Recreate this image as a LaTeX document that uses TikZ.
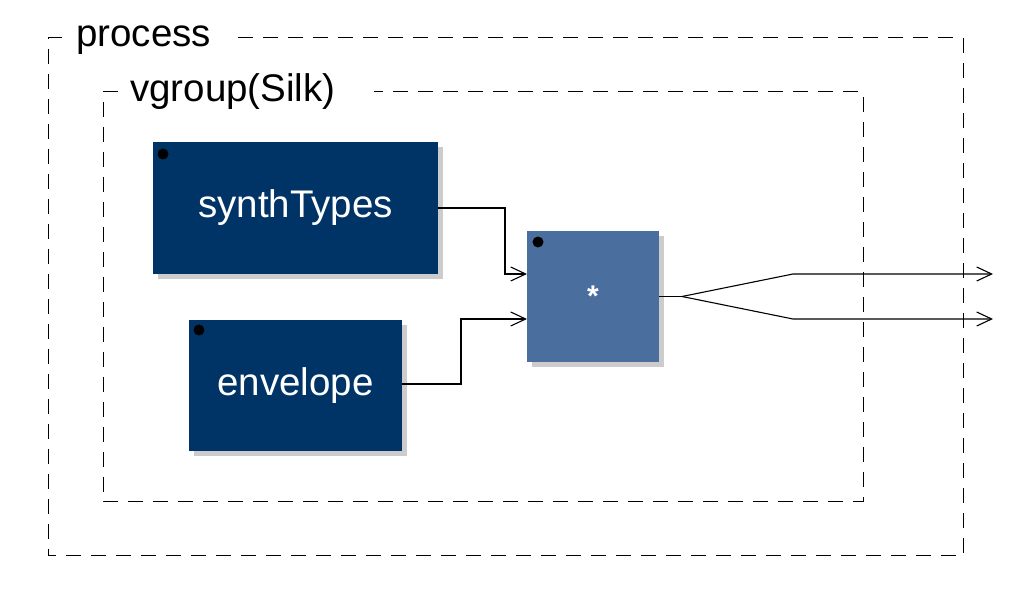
\documentclass[tikz,border=0pt]{standalone}
\usepackage{fontspec}
\setmainfont{Liberation Sans}
\usetikzlibrary{arrows.meta,shadows}
\definecolor{darkblk}{HTML}{003366}
\definecolor{midblk}{HTML}{4A6E9E}
\definecolor{shadowgray}{HTML}{CCCCCC}
\begin{document}
\begin{tikzpicture}[x=1pt,y=-1pt,
  frame/.style={draw=black,line width=1pt,dash pattern=on 15pt off 10pt},
  framelabel/.style={anchor=base west,inner sep=0pt,font=\fontsize{38.5}{40}\selectfont},
  blockbox/.style={draw=none,fill=darkblk,text=white,inner sep=0pt,
    font=\fontsize{38.5}{40}\selectfont,
    general shadow={fill=shadowgray,shadow xshift=5pt,shadow yshift=-5pt}},
  opbox/.style={blockbox,fill=midblk,font=\fontsize{30}{32}\selectfont\bfseries},
  dotmark/.style={circle,fill=black,inner sep=0pt,minimum size=11pt},
  wire/.style={draw=black,line width=1.1pt},
  arrowwire/.style={wire,-{Straight Barb[length=15pt,width=14pt,line width=1.1pt]}}
]
\useasboundingbox (0,0) rectangle (1013,609);
% outer frame
\node[framelabel] (procl) at (76,47) {process};
\draw[frame] (62,38) -- (48,38) -- (48,556) -- (963,556) -- (963,38) -- (230,38);
% inner frame
\node[framelabel] (vgl) at (130,102) {vgroup(Silk)};
\draw[frame] (118,92) -- (103,92) -- (103,502) -- (863,502) -- (863,92) -- (374,92);
% blocks
\node[blockbox,minimum width=285pt,minimum height=132pt] (synth) at (295.5,208) {synthTypes};
\node[blockbox,minimum width=213pt,minimum height=131pt] (env) at (295.5,385.5) {envelope};
\node[opbox,minimum width=132pt,minimum height=131pt] (mul) at (593,296.5) {*};
\node[dotmark] (d1) at (163,154) {};
\node[dotmark] (d2) at (199,330) {};
\node[dotmark] (d3) at (538,242) {};
% wires
\coordinate (in1) at (527,274);
\coordinate (in2) at (527,319);
\coordinate (split) at (682,296.5);
\coordinate (o1) at (993,274);
\coordinate (o2) at (993,319);
\draw[arrowwire] (synth.east) -- (505,208) |- (in1);
\draw[arrowwire] (env.east |- 0,384) -- (461,384) |- (in2);
\draw[wire] (mul.east) -- (split);
\draw[arrowwire] (split) -- (793,274) -- (o1);
\draw[arrowwire] (split) -- (793,319) -- (o2);
\end{tikzpicture}
\end{document}
